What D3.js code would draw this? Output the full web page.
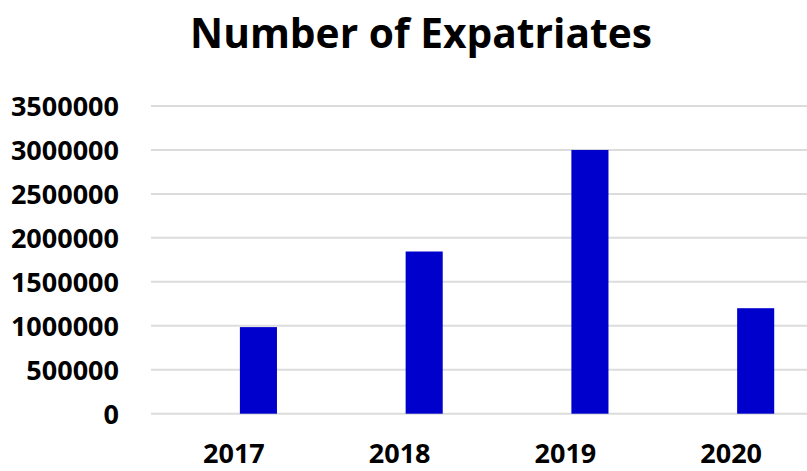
<!DOCTYPE html>
<html>
<head>
<meta charset="utf-8">
<script src="https://cdn.jsdelivr.net/npm/d3@7"></script>
<style>
  body { margin: 0; background: #fff; }
  text { font-family: "Open Sans", sans-serif; font-weight: bold; fill: #000; }
</style>
</head>
<body>
<script>
var years = ['2017', '2018', '2019', '2020'];
var series = ['blank', 'Expatriates'];   // first series is empty, bars sit right of centre
var expatriates = [985000, 1845000, 3000000, 1200000];
var yTicks = [0, 500000, 1000000, 1500000, 2000000, 2500000, 3000000, 3500000];

var width = 807, height = 471;
var plotLeft = 151, plotRight = 814, plotTop = 106, plotBottom = 413.7;

var svg = d3.select('body').append('svg')
  .attr('width', width).attr('height', height);

var x = d3.scaleBand().domain(years).range([plotLeft, plotRight]);
var sub = d3.scaleBand().domain(series)
  .range([x.bandwidth() * 0.24, x.bandwidth() * 0.76])
  .paddingInner(0.245);
var y = d3.scaleLinear().domain([0, 3500000]).range([plotBottom, plotTop]);

// title
svg.append('text')
  .attr('x', 421).attr('y', 48)
  .attr('text-anchor', 'middle')
  .style('font-size', '40.7px')
  .text('Number of Expatriates');

// gridlines
svg.append('g').selectAll('line')
  .data(yTicks)
  .enter().append('line')
  .attr('x1', plotLeft).attr('x2', width)
  .attr('y1', function(d) { return y(d) })
  .attr('y2', function(d) { return y(d) })
  .attr('stroke', '#dcdcdc')
  .attr('stroke-width', 2);

// y axis labels
var yAxis = svg.append('g')
  .attr('transform', 'translate(119,0)')
  .call(d3.axisLeft(y).tickValues(yTicks).tickFormat(d3.format('d')).tickSize(0).tickPadding(0));
yAxis.select('.domain').remove();
yAxis.selectAll('text').style('font-size', '27px').attr('dy', '0.35em');

// x axis labels
var xAxis = svg.append('g')
  .attr('transform', 'translate(0,' + plotBottom + ')')
  .call(d3.axisBottom(x).tickSize(0).tickPadding(0));
xAxis.select('.domain').remove();
xAxis.selectAll('text').style('font-size', '27px').attr('y', 49).attr('dy', 0);

// bars
svg.append('g').selectAll('rect')
  .data(expatriates)
  .enter().append('rect')
  .attr('x', function(d, i) { return x(years[i]) + sub('Expatriates') })
  .attr('width', sub.bandwidth())
  .attr('y', function(d) { return y(d) })
  .attr('height', function(d) { return plotBottom - y(d) })
  .attr('fill', '#0000cc');
</script>
</body>
</html>
